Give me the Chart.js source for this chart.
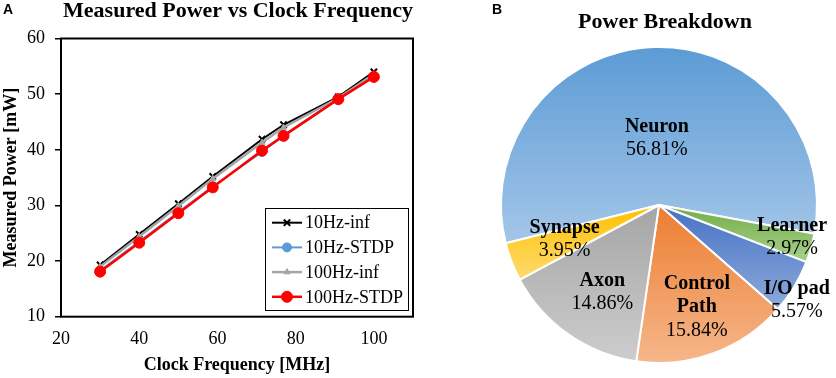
<!DOCTYPE html>
<html><head><meta charset="utf-8">
<script src="https://cdn.jsdelivr.net/npm/chart.js@4.4.0/dist/chart.umd.min.js"></script>
<style>
html,body{margin:0;padding:0;background:#fff;}
#wrap{position:relative;width:836px;height:378px;overflow:hidden;background:#fff;}
#pa{position:absolute;left:0;top:0;width:420px;height:378px;}
#pb{position:absolute;left:420px;top:0;width:416px;height:378px;}
</style></head><body>
<div id="wrap"><div id="pa"><canvas id="c1"></canvas></div><div id="pb"><canvas id="c2"></canvas></div></div>
<script>
// ---------- data ----------
const clockFreqMHz   = [30, 40, 50, 58.8, 71.4, 76.9, 90.9, 100];
const power10HzInf   = [19.3, 24.8, 30.3, 35.2, 41.9, 44.5, 49.5, 54.0];
const power10HzSTDP  = [18.3, 23.5, 28.8, 33.4, 39.6, 42.6, 49.2, 53.1];
const power100HzInf  = [19.0, 24.4, 29.9, 34.8, 41.3, 44.0, 49.3, 53.6];
const power100HzSTDP = [18.1, 23.3, 28.6, 33.25, 39.85, 42.5, 49.1, 53.1];
const seriesNames    = ['10Hz-inf', '10Hz-STDP', '100Hz-inf', '100Hz-STDP'];
const xTickValues    = [20, 40, 60, 80, 100];
const yTickValues    = [10, 20, 30, 40, 50, 60];

const pieCategories  = ['Neuron', 'Learner', 'I/O pad', 'Control Path', 'Axon', 'Synapse'];
const pieShares      = [56.81, 2.97, 5.57, 15.84, 14.86, 3.95];

// ---------- styles ----------
const SERIF = "'Liberation Serif', 'Times New Roman', serif";
const SANS = "'Liberation Sans', Arial, sans-serif";
const seriesStyles = [
  {color:'#000000', width:2,   point:'crossRot', radius:4.5, pbw:2,   order:4},
  {color:'#5B9BD5', width:2,   point:'circle',   radius:4.5, pbw:1,   order:3},
  {color:'#A5A5A5', width:2.5, point:'triangle', radius:3.5, pbw:1,   order:2},
  {color:'#FF0000', width:2.5, point:'circle',   radius:5.5, pbw:1,   order:1}
];
const sliceColors = [
  ['#5B9BD5', '#A4C6E8'],
  ['#70AD47', '#A9D18E'],
  ['#4472C4', '#8FAADC'],
  ['#ED7D31', '#F5B78B'],
  ['#A5A5A5', '#CDCDCD'],
  ['#FFC000', '#FFDB70']
];
const pieRotation = -104;
const labelRadius = [0.428, 0.865, 1.057, 0.683, 0.652, 0.633];
const labelAngleShift = [0, -2.7, 3.2, -0.3, -1.7, 1.8];
const labelWrap = [false, false, false, true, false, false];

Chart.defaults.font.family = SERIF;
Chart.defaults.color = '#000';

// ---------- left chart ----------
const seriesValues = [power10HzInf, power10HzSTDP, power100HzInf, power100HzSTDP];
const lineDatasets = seriesValues.map((vals, i) => {
  const s = seriesStyles[i];
  return {
    label: seriesNames[i],
    data: clockFreqMHz.map((f, k) => ({x: f, y: vals[k]})),
    borderColor: s.color, backgroundColor: s.color,
    borderWidth: s.width, pointStyle: s.point, pointRadius: s.radius,
    pointBorderWidth: s.pbw, pointBorderColor: s.color, pointBackgroundColor: s.color,
    tension: 0, order: s.order
  };
});

const frameAndLegend = {
  id: 'frameAndLegend',
  afterDatasetsDraw(chart) {
    const ctx = chart.ctx, a = chart.chartArea;
    ctx.save();
    ctx.strokeStyle = '#000'; ctx.lineWidth = 2;
    ctx.strokeRect(a.left, a.top, a.right - a.left, a.bottom - a.top);
    // legend box
    const L = {left:265.5, top:208.5, right:408.5, bottom:310.5};
    ctx.fillStyle = '#fff';
    ctx.fillRect(L.left, L.top, L.right - L.left, L.bottom - L.top);
    ctx.lineWidth = 1; ctx.strokeStyle = '#000';
    ctx.strokeRect(L.left, L.top, L.right - L.left, L.bottom - L.top);
    chart.data.datasets.forEach((ds, i) => {
      const y = 222.7 + i * 24.7;
      ctx.strokeStyle = ds.borderColor; ctx.lineWidth = ds.borderWidth;
      ctx.beginPath(); ctx.moveTo(272, y); ctx.lineTo(302, y); ctx.stroke();
      ctx.fillStyle = ds.pointBackgroundColor; ctx.strokeStyle = ds.pointBorderColor;
      ctx.lineWidth = ds.pointBorderWidth;
      Chart.helpers.drawPoint(ctx, {pointStyle: ds.pointStyle, radius: ds.pointRadius, rotation: 0, borderWidth: ds.pointBorderWidth}, 287, y);
      ctx.fillStyle = '#000';
      ctx.font = '18px ' + SERIF;
      ctx.textAlign = 'left'; ctx.textBaseline = 'middle';
      ctx.fillText(ds.label, 305, y + 1);
    });
    ctx.restore();
  },
  afterDraw(chart) {
    const ctx = chart.ctx;
    ctx.save();
    ctx.fillStyle = '#000'; ctx.font = 'bold 14px ' + SANS;
    ctx.textAlign = 'left'; ctx.textBaseline = 'middle';
    ctx.fillText('A', 3, 10.5);
    ctx.restore();
  }
};

new Chart(document.getElementById('c1'), {
  type: 'line',
  data: {datasets: lineDatasets},
  options: {
    responsive: true, maintainAspectRatio: false, animation: false,
    layout: {padding: {left: 0, right: 7, top: 0, bottom: 0}},
    plugins: {
      legend: {display: false}, tooltip: {enabled: false},
      title: {display: true, text: 'Measured Power vs Clock Frequency', align: 'end',
        color: '#000', font: {family: SERIF, size: 22, weight: 'bold', lineHeight: 1},
        padding: {top: 0.5, bottom: 16}}
    },
    scales: {
      x: {type: 'linear', min: 20, max: 110,
        afterBuildTicks: s => { s.ticks = xTickValues.map(v => ({value: v})); },
        afterFit: s => { s.height = 61.3; },
        grid: {display: false, drawTicks: false}, border: {display: false},
        ticks: {font: {family: SERIF, size: 18}, color: '#000', padding: 11.3, maxRotation: 0},
        title: {display: true, text: 'Clock Frequency [MHz]', color: '#000',
          font: {family: SERIF, size: 18, weight: 'bold'}, padding: {top: 0, bottom: 2.2}}
      },
      y: {type: 'linear', min: 10, max: 60,
        afterBuildTicks: s => { s.ticks = yTickValues.map(v => ({value: v})); },
        afterFit: s => { s.width = 61; },
        grid: {display: true, drawOnChartArea: false, drawTicks: true, tickLength: 6, color: '#000', lineWidth: 1.5},
        border: {display: false},
        ticks: {font: {family: SERIF, size: 18}, color: '#000', padding: 10},
        title: {display: true, text: 'Measured Power [mW]', color: '#000',
          font: {family: SERIF, size: 18, weight: 'bold'}, padding: {top: 0.9, bottom: 0}}
      }
    }
  },
  plugins: [frameAndLegend]
});

// ---------- right chart ----------
function sliceFill(c) {
  const chart = c.chart, area = chart.chartArea, i = c.dataIndex;
  const cols = sliceColors[i];
  if (!area) return cols[0];
  const cx = (area.left + area.right) / 2, cy = (area.top + area.bottom) / 2;
  const r = Math.min(area.right - area.left, area.bottom - area.top) / 2;
  const total = pieShares.reduce((p, q) => p + q, 0);
  let start = -Math.PI / 2 + pieRotation * Math.PI / 180;
  for (let k = 0; k < i; k++) start += pieShares[k] / total * 2 * Math.PI;
  const end = start + pieShares[i] / total * 2 * Math.PI;
  const ys = [cy, cy + r * Math.sin(start), cy + r * Math.sin(end)];
  for (let m = -4; m <= 4; m++) {
    const ang = Math.PI / 2 + m * Math.PI;
    if (ang > start && ang < end) ys.push(cy + r * Math.sin(ang));
  }
  const y0 = Math.min(...ys), y1 = Math.max(...ys);
  const g = chart.ctx.createLinearGradient(0, y0, 0, y1);
  g.addColorStop(0, cols[0]); g.addColorStop(1, cols[1]);
  return g;
}

const pieText = {
  id: 'pieText',
  afterDatasetsDraw(chart) {
    const ctx = chart.ctx;
    const meta = chart.getDatasetMeta(0);
    ctx.save();
    ctx.fillStyle = '#000'; ctx.textAlign = 'center'; ctx.textBaseline = 'middle';
    meta.data.forEach((arc, i) => {
      const mid = (arc.startAngle + arc.endAngle) / 2 + labelAngleShift[i] * Math.PI / 180;
      const rr = arc.outerRadius * labelRadius[i];
      const x = arc.x + rr * Math.cos(mid), y = arc.y + rr * Math.sin(mid);
      const name = chart.data.labels[i];
      const lines = labelWrap[i] ? name.split(' ') : [name];
      const all = lines.map(t => ({t, bold: true}));
      all.push({t: chart.data.datasets[0].data[i].toFixed(2) + '%', bold: false});
      const step = 23.3;
      all.forEach((ln, j) => {
        ctx.font = (ln.bold ? 'bold ' : '') + '20px ' + SERIF;
        ctx.fillText(ln.t, x, y + (j - (all.length - 1) / 2) * step + 1);
      });
    });
    ctx.restore();
  },
  afterDraw(chart) {
    const ctx = chart.ctx;
    ctx.save();
    ctx.fillStyle = '#000'; ctx.textBaseline = 'middle';
    ctx.font = 'bold 22px ' + SERIF; ctx.textAlign = 'center';
    ctx.fillText('Power Breakdown', 245, 22.5);
    ctx.font = 'bold 14px ' + SANS; ctx.textAlign = 'left';
    ctx.fillText('B', 72, 10.5);
    ctx.restore();
  }
};

new Chart(document.getElementById('c2'), {
  type: 'pie',
  data: {labels: pieCategories, datasets: [{data: pieShares, backgroundColor: sliceFill,
    borderColor: '#ffffff', borderWidth: 2}]},
  options: {
    responsive: true, maintainAspectRatio: false, animation: false,
    rotation: pieRotation,
    layout: {padding: {left: 80, right: 18, top: 46, bottom: 14}},
    plugins: {legend: {display: false}, tooltip: {enabled: false}, title: {display: false}}
  },
  plugins: [pieText]
});
</script>
</body></html>
